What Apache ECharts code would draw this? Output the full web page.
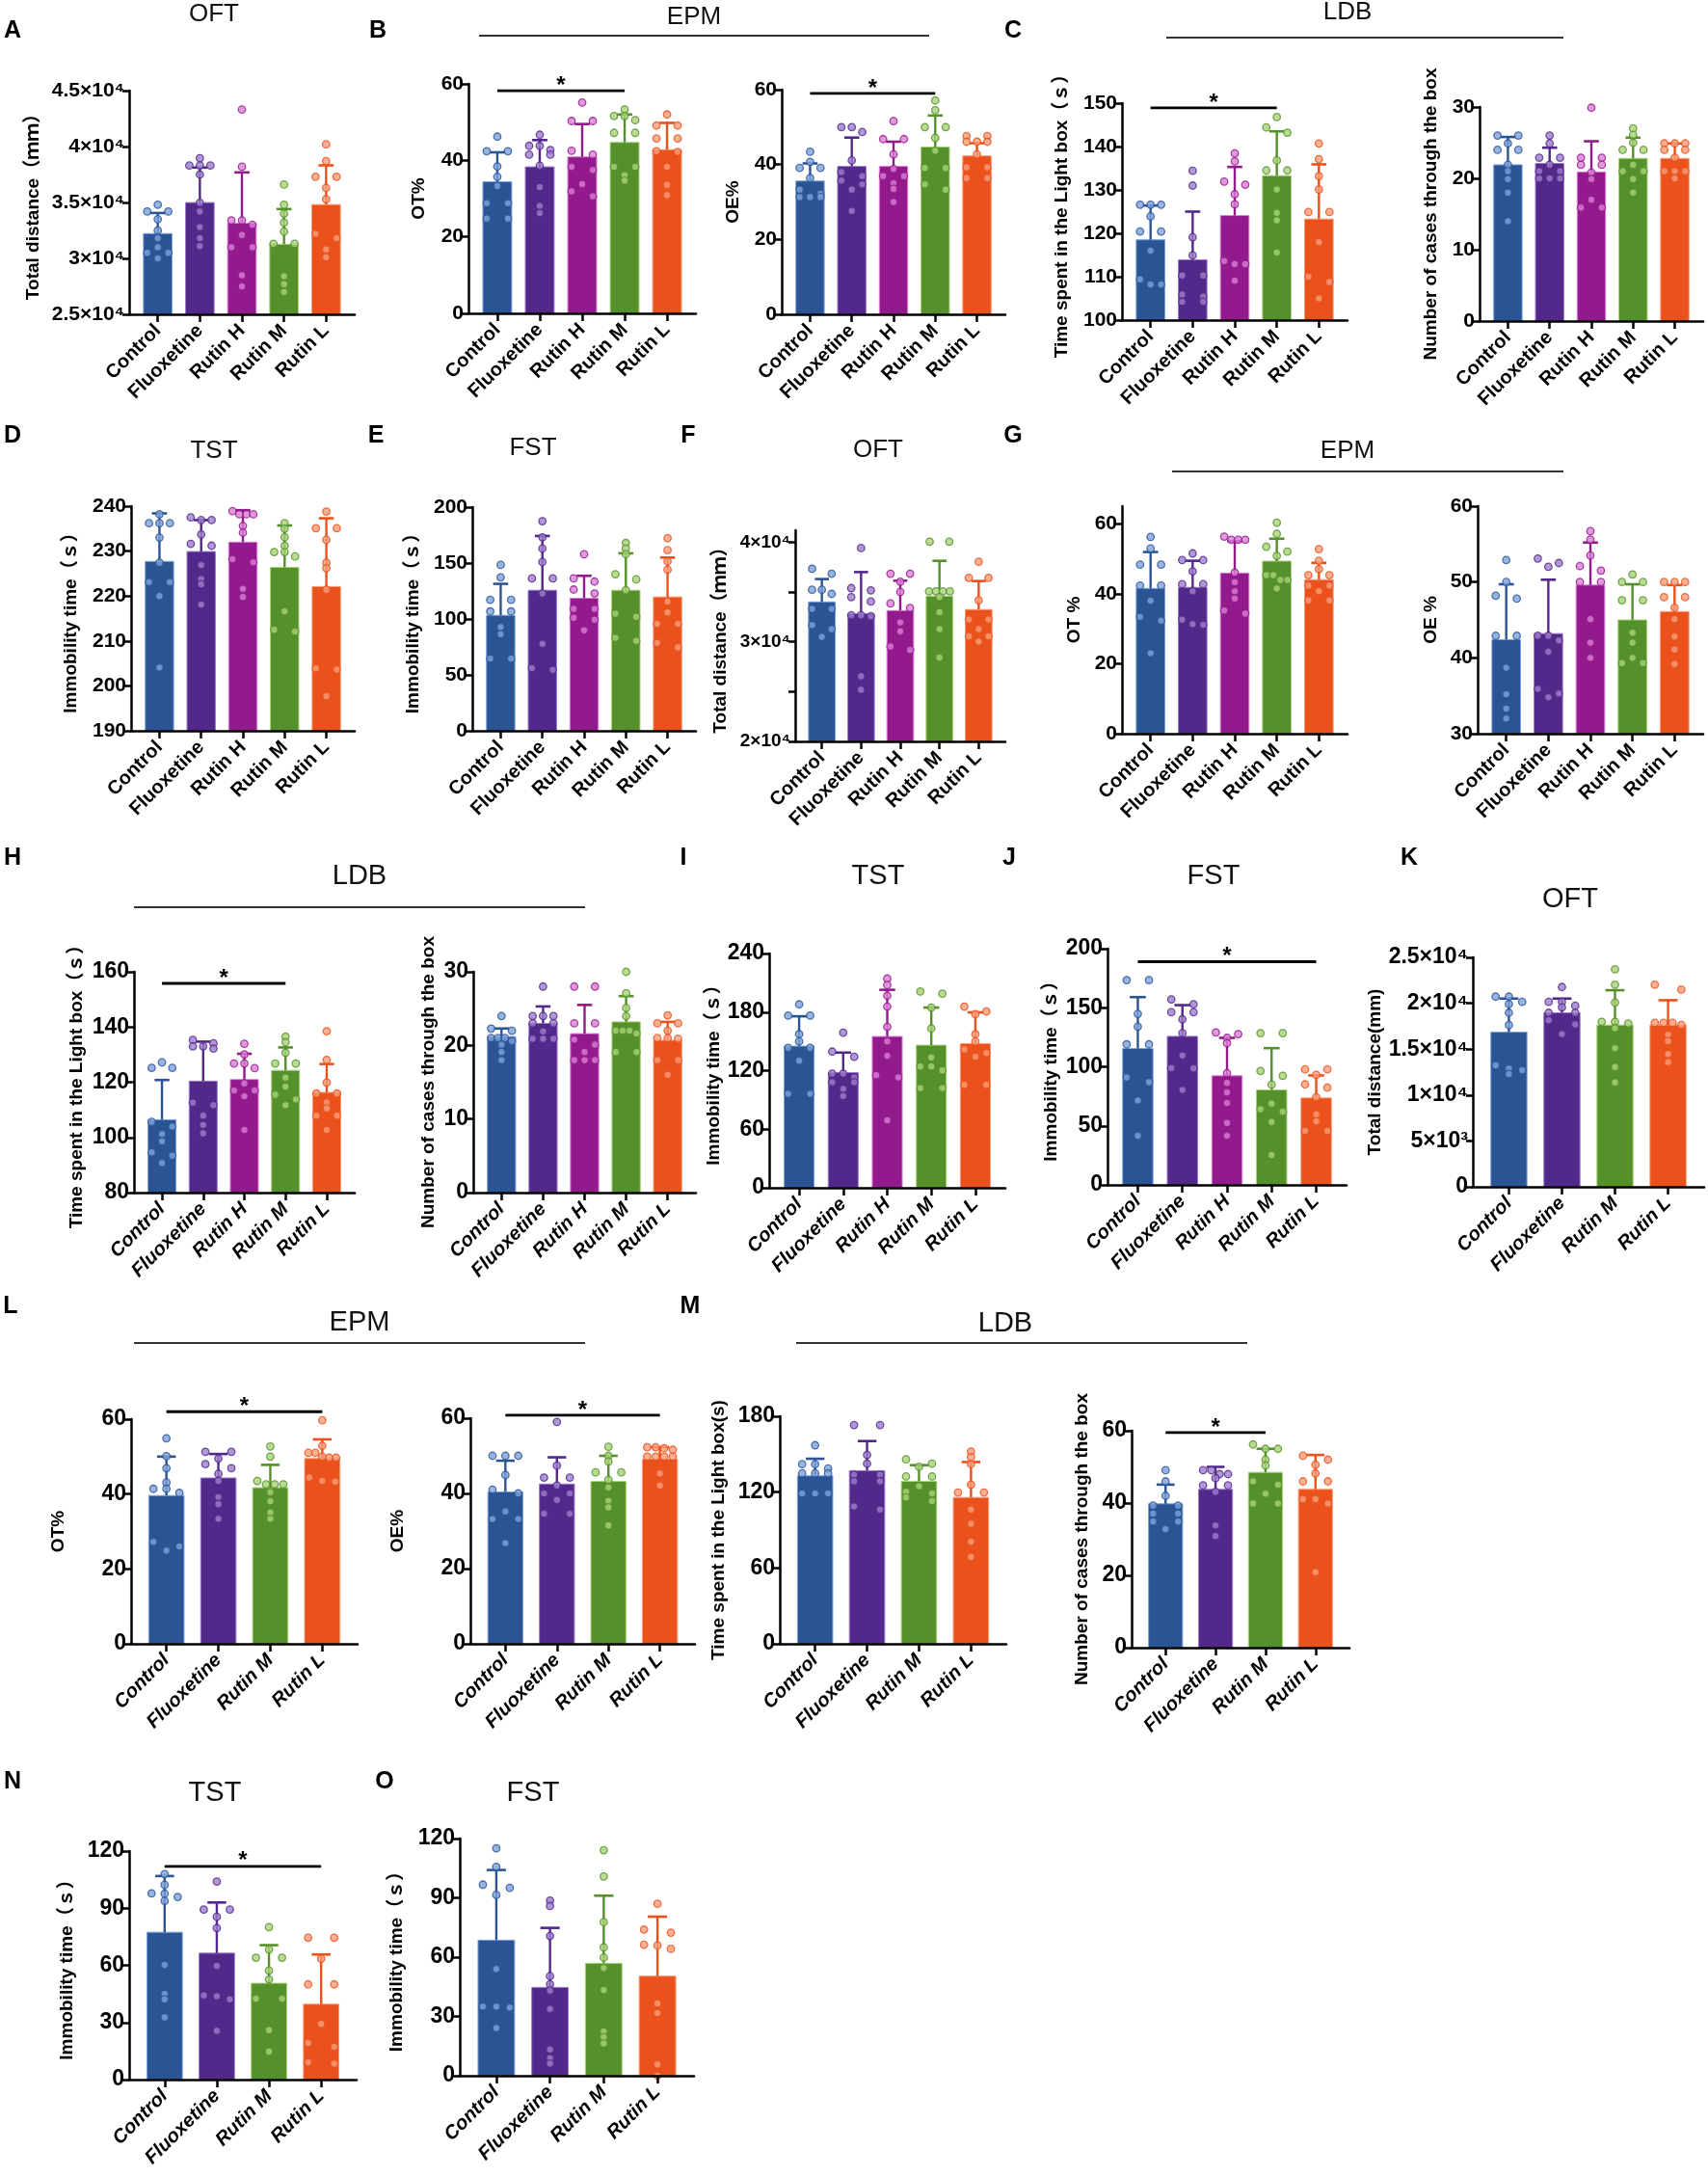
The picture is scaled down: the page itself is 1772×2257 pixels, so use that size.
<!DOCTYPE html>
<html><head><meta charset="utf-8">
<script src="https://cdn.jsdelivr.net/npm/echarts@6/dist/echarts.min.js"></script>
<style>html,body{margin:0;padding:0;background:#fff;}#chart{width:1772px;height:2257px;}</style>
</head><body><div id="chart"></div>
<script>
const CAT5 = ['Control','Fluoxetine','Rutin H','Rutin M','Rutin L'];
const CAT4 = ['Control','Fluoxetine','Rutin M','Rutin L'];

// A  OFT
const A_yticks=[25000,30000,35000,40000,45000];
const A_ylabels=['2.5×10⁴','3×10⁴','3.5×10⁴','4×10⁴','4.5×10⁴'];
const A_mean=[32220,34990,33140,31270,34810];
const A_sd=[1840,3130,4550,3140,3510];
const A_dots=[[34800,34200,34200,33500,32500,31800,31000,30500,30500,30000],
 [38960,38300,38300,38300,37500,34960,34200,32800,31800,31100],
 [43300,38200,33400,33400,33000,32100,31000,31000,28500,27500],
 [36600,34800,34000,33200,32400,31300,31300,28400,27700,27000],
 [40200,38700,37300,37300,36300,35300,32200,31800,30800,30100]];
// B  EPM OT%
const B1_yticks=[0,20,40,60];
const B1_mean=[34.4,38.3,40.9,44.7,42.8];
const B1_sd=[7.7,7.0,8.6,7.3,7.0];
const B1_dots=[[46.2,42.4,42.4,38.4,35.7,33.3,28.8,28.8,24.8,24.8],
 [46.7,43.8,43.8,42.7,41.5,41.5,38.6,33.0,28.1,26.2],
 [55.1,50.3,50.3,42.5,41.5,38.3,37.5,33.8,31.9,30.6],
 [53.3,51.6,51.6,50.5,47.2,47.2,38.3,38.3,36.1,34.7],
 [52.0,49.1,49.1,45.7,45.7,42.4,42.2,38.3,33.6,30.9]];
const B1_sig=[0,3,58.2];
// B  EPM OE%
const B2_yticks=[0,20,40,60];
const B2_mean=[35.6,39.5,39.5,44.7,42.3];
const B2_sd=[4.7,7.7,6.6,8.4,3.4];
const B2_dots=[[43.4,40.7,39.1,39.1,36.4,33.3,32.2,31.3,31.3,31.3],
 [50.0,50.0,48.7,41.1,38.0,36.9,35.7,34.7,33.3,27.6],
 [51.6,46.8,46.8,42.7,38.8,36.9,36.9,35.0,33.5,30.0],
 [57.1,54.5,50.0,50.0,47.1,43.7,39.1,39.1,34.7,33.3],
 [47.6,47.6,46.1,46.1,46.1,42.7,39.3,39.3,36.4,36.4]];
const B2_sig=[0,3,59.0];
// C  LDB time
const C1_yticks=[100,110,120,130,140,150];
const C1_mean=[118.5,113.9,124.1,133.3,123.3];
const C1_sd=[7.9,11.1,11.2,10.2,12.6];
const C1_dots=[[126.6,126.6,126.6,123.9,120.4,120.4,116.0,109.4,108.2,108.2],
 [134.4,131.0,119.1,114.9,110.3,110.3,105.9,105.4,104.2,104.2],
 [138.4,136.6,131.9,131.2,129.0,126.7,113.6,112.9,112.9,109.1],
 [146.8,144.4,143.2,136.8,134.5,134.5,130.1,124.7,123.0,115.6],
 [140.7,137.1,133.2,130.1,124.9,124.9,118.0,110.0,108.8,105.0]];
const C1_sig=[0,3,148.9];
// C  LDB cases
const C2_yticks=[0,10,20,30];
const C2_mean=[21.9,22.1,20.9,22.8,22.8];
const C2_sd=[3.9,2.2,4.3,2.9,2.1];
const C2_dots=[[26.0,26.0,24.9,24.0,24.0,21.9,21.0,19.9,18.0,14.0],
 [26.0,24.9,22.9,22.9,21.9,21.0,21.0,20.0,20.0,20.0],
 [29.9,22.9,22.9,21.9,21.9,20.8,19.9,17.0,15.9,15.9],
 [27.0,26.1,25.0,24.0,24.0,21.9,21.0,21.0,19.9,18.0],
 [24.9,24.9,24.9,24.0,24.0,22.9,21.0,21.0,21.0,20.0]];
// D  TST
const D_yticks=[190,200,210,220,230,240];
const D_mean=[227.7,229.9,232.0,226.4,222.1];
const D_sd=[10.7,7.0,7.1,9.3,15.2];
const D_dots=[[238.2,236.2,236.2,236.2,233.0,227.4,223.1,223.1,220.0,204.1],
 [237.5,236.9,236.9,233.7,231.6,231.2,226.9,223.8,222.6,218.1],
 [238.9,238.2,238.2,238.2,235.6,234.1,228.2,227.5,221.6,219.8],
 [236.2,235.0,233.1,231.2,229.8,229.8,228.8,216.6,212.5,212.1],
 [238.8,235.1,235.1,232.5,227.4,226.2,221.4,203.9,203.6,197.7]];
// E  FST
const E_yticks=[0,50,100,150,200];
const E_mean=[103.3,125.7,118.5,125.7,119.7];
const E_sd=[28.1,48.5,20.1,33.0,35.2];
const E_dots=[[148.3,137.2,117.1,117.1,106.7,106.7,92.7,86.4,64.6,64.6],
 [187.4,173.0,163.0,150.9,136.3,136.3,122.8,77.8,56.0,54.5],
 [157.8,136.3,133.4,126.3,122.8,109.0,109.0,101.0,99.3,89.8],
 [167.9,163.0,158.0,140.0,135.4,125.7,104.7,101.9,83.2,80.3],
 [172.2,161.5,151.5,144.0,115.6,105.9,95.6,95.6,78.6,74.6]];
// F  OFT
const F_yticks=[20000,25000,30000,35000,40000];
const F_ylabels=['2×10⁴','','3×10⁴','','4×10⁴'];
const F_mean=[34010,32820,33140,34590,33240];
const F_sd=[2290,4180,3000,3540,2860];
const F_dots=[[37330,36840,35230,35230,34810,33300,33300,31690,31270,30500],
 [39420,35390,35170,34490,34040,32660,32660,32560,26540,25190],
 [36840,36840,36040,35010,33850,33400,31950,31050,29530,29180],
 [40060,40060,35070,35070,35070,35070,34490,32980,31270,28410],
 [38040,36430,36430,34170,32240,32240,31270,30560,30560,30020]];
// G  EPM OT %
const G1_yticks=[0,20,40,60];
const G1_mean=[41.5,41.8,45.9,49.3,44.0];
const G1_sd=[10.4,7.6,9.1,6.4,4.8];
const G1_dots=[[56.2,52.9,48.3,48.3,42.3,42.3,38.0,33.4,32.3,23.0],
 [51.5,49.6,49.6,46.4,42.7,42.7,40.7,32.6,31.3,31.1],
 [56.3,55.4,55.4,55.4,46.0,43.3,40.7,38.6,35.2,34.3],
 [60.3,57.1,53.4,52.0,50.8,45.3,45.3,43.9,43.9,41.5],
 [52.7,49.4,47.0,45.3,45.3,42.3,42.3,40.7,38.1,38.1]];
// G  EPM OE %
const G2_yticks=[30,40,50,60];
const G2_mean=[42.4,43.2,49.6,45.0,46.1];
const G2_sd=[7.3,7.1,5.6,4.7,3.5];
const G2_dots=[[52.9,50.0,48.2,47.8,42.9,42.9,38.7,35.2,33.3,32.0],
 [53.1,52.5,52.0,42.9,42.9,42.3,40.8,35.9,35.3,34.8],
 [56.7,55.6,53.5,52.1,51.5,50.0,50.0,45.1,42.0,40.0],
 [51.0,50.0,50.0,47.6,47.6,43.3,42.0,40.0,39.3,39.3],
 [50.0,50.0,50.0,48.0,48.0,46.6,45.1,42.8,41.1,39.2]];
// H  LDB time
const H1_yticks=[80,100,120,140,160];
const H1_mean=[106.4,120.4,121.0,124.3,116.3];
const H1_sd=[14.4,14.3,9.3,8.3,10.3];
const H1_dots=[[127.2,125.2,125.2,105.6,103.9,101.2,98.6,94.6,93.4,90.7],
 [135.3,134.1,133.0,133.0,132.2,112.6,111.7,107.9,104.5,101.5],
 [133.9,130.1,126.8,126.8,125.1,119.6,117.0,117.0,114.9,102.7],
 [136.5,134.5,130.7,126.8,126.8,121.7,118.4,115.5,113.8,111.7],
 [138.5,128.1,119.9,115.9,115.9,112.6,110.5,107.9,107.9,102.7]];
const H1_sig=[0,3,155.8];
// H  LDB cases
const H2_yticks=[0,10,20,30];
const H2_mean=[21.2,23.0,21.6,23.2,20.7];
const H2_sd=[1.1,2.3,3.9,3.5,2.5];
const H2_dots=[[24.0,22.3,22.0,21.0,21.0,21.0,20.6,20.1,19.1,18.0],
 [28.0,24.0,24.0,24.0,23.0,23.0,21.9,20.9,20.9,20.9],
 [28.0,28.0,23.0,23.0,20.8,20.1,19.1,18.0,18.0,18.0],
 [30.0,27.1,25.1,24.0,22.0,22.0,22.0,21.6,19.1,19.1],
 [24.1,23.0,23.0,22.0,21.0,21.0,20.9,18.0,18.0,16.0]];
// I  TST
const I_yticks=[0,60,120,180,240];
const I_mean=[145.1,118.0,155.0,146.1,147.7];
const I_sd=[30.6,20.5,47.8,38.5,32.0];
const I_dots=[[187.9,176.4,176.4,157.3,150.0,143.4,143.4,130.2,96.3,96.3],
 [158.9,139.5,134.2,117.0,117.0,113.1,108.1,108.1,101.2,94.0],
 [214.3,207.7,196.8,185.6,164.9,150.0,135.2,115.4,113.1,69.2],
 [201.1,198.8,184.6,163.2,133.5,124.3,124.3,120.3,102.2,102.2],
 [185.6,180.7,178.0,157.3,150.0,141.8,138.0,134.2,105.5,105.5]];
// J  FST
const J_yticks=[0,50,100,150,200];
const J_mean=[115.5,125.8,92.4,80.4,73.6];
const J_sd=[43.5,26.4,32.1,35.4,19.1];
const J_dots=[[173.4,173.4,144.8,134.0,119.0,119.0,91.0,87.0,71.5,41.6],
 [157.1,153.0,146.2,146.2,140.2,128.5,109.5,99.0,98.6,80.4],
 [129.1,127.7,124.5,120.0,94.6,86.4,78.3,69.3,52.4,41.6],
 [128.5,128.5,96.5,92.4,85.0,68.8,64.1,62.0,53.3,25.3],
 [97.8,97.8,93.2,85.1,82.4,74.2,59.8,53.8,45.7,45.7]];
const J_sig=[0,4,189];
// K  OFT
const K_yticks=[0,5000,10000,15000,20000,25000];
const K_ylabels=['0','5×10³','1×10⁴','1.5×10⁴','2×10⁴','2.5×10⁴'];
const K_mean=[16850,18960,17630,17630];
const K_sd=[3660,1550,3790,2700];
const K_dots=[[20720,20720,20150,19910,18960,17630,13240,12890,12710,12290],
 [21770,20150,20150,19730,19560,18960,18960,18150,17700,16640],
 [23700,22020,20080,17980,17980,17800,17280,15100,13060,11380],
 [22020,21490,17870,17870,17870,17630,16570,15870,14470,13590]];
// L  EPM OT%
const L1_yticks=[0,20,40,60];
const L1_mean=[39.6,44.3,41.7,49.5];
const L1_sd=[10.4,6.4,6.1,5.1];
const L1_dots=[[54.9,50.1,46.9,43.1,41.4,41.4,40.3,27.2,26.0,24.9],
 [51.3,51.3,49.5,48.0,46.9,45.4,43.5,39.2,37.3,33.4],
 [52.7,50.0,43.5,42.6,42.6,42.6,40.5,38.1,35.1,33.4],
 [59.7,52.9,51.0,51.0,50.0,49.7,49.7,44.4,43.5,43.3]];
const L1_sig=[0,3,62];
// L  EPM OE%
const L2_yticks=[0,20,40,60];
const L2_mean=[40.4,42.5,43.2,49.1];
const L2_sd=[8.3,7.1,6.8,3.2];
const L2_dots=[[50.0,50.0,50.0,44.9,41.0,40.0,35.2,33.2,33.2,26.8],
 [59.0,47.4,44.2,44.2,42.1,40.0,40.0,38.3,34.6,34.6],
 [52.4,50.0,48.5,45.6,45.6,43.6,41.6,38.0,36.3,31.5],
 [52.3,52.3,52.0,51.6,49.8,49.8,49.8,49.8,45.3,42.1]];
const L2_sig=[0,3,60.8];
// M  LDB time
const M1_yticks=[0,60,120,180];
const M1_mean=[132.9,137.0,128.6,115.8];
const M1_sd=[13.5,23.4,12.7,28.0];
const M1_dots=[[157.1,142.1,142.1,138.7,134.9,134.9,134.9,118.9,118.9,118.9],
 [173.1,173.1,149.4,142.6,133.7,133.7,128.6,128.6,108.7,106.2],
 [145.9,142.6,140.0,132.4,132.4,124.7,120.2,118.9,115.8,112.8],
 [152.0,147.7,142.3,126.0,119.7,119.7,106.2,95.0,80.7,68.7]];
// M  LDB cases
const M2_yticks=[0,20,40,60];
const M2_mean=[39.8,43.8,48.5,43.8];
const M2_sd=[5.3,6.2,6.5,9.5];
const M2_dots=[[49.1,46.0,42.0,39.3,39.3,37.1,37.1,34.9,34.9,32.8],
 [49.1,49.1,48.0,48.0,46.9,44.9,44.9,43.1,33.8,30.9],
 [56.2,55.0,55.0,52.0,50.4,46.0,45.1,42.6,39.9,39.9],
 [53.1,52.0,50.6,48.2,46.0,46.0,41.1,41.1,39.9,20.9]];
const M2_sig=[0,2,59.5];
// N  TST
const N_yticks=[0,30,60,90,120];
const N_mean=[77.4,66.4,50.6,39.6];
const N_sd=[29.5,26.6,20.0,26.1];
const N_dots=[[107.9,102.3,97.8,97.6,95.9,93.9,60.2,45.0,42.1,32.7],
 [104.0,89.3,89.3,85.5,79.6,59.7,44.2,43.8,42.1,25.6],
 [80.1,68.3,64.0,64.0,57.3,52.6,42.5,42.5,26.0,14.7],
 [74.5,74.5,63.5,50.0,50.0,29.3,19.2,17.2,9.1,8.4]];
const N_sig=[0,3,112];
// O  FST
const O_yticks=[0,30,60,90,120];
const O_mean=[68.6,44.7,56.9,50.4];
const O_sd=[35.5,30.1,34.2,30.1];
const O_dots=[[115.1,105.7,96.7,95.1,91.5,54.0,35.0,35.0,34.5,24.1],
 [88.6,85.9,70.7,50.4,46.3,43.1,33.8,13.3,8.9,6.2],
 [114.1,100.8,77.7,65.0,59.8,54.5,43.4,22.4,19.5,16.3],
 [87.0,74.0,72.4,66.3,65.9,64.2,36.6,31.7,5.7,0.0]];

// ---------- styling / layout ----------
const FONT="'Liberation Sans','Noto Sans CJK SC',sans-serif";
const NARROW="'Liberation Sans Narrow','Liberation Sans','Noto Sans CJK SC',sans-serif";
const COLORS={'Control':['#2B5494','#7EA3DA'],'Fluoxetine':['#52298A','#9D7DCB'],
 'Rutin H':['#931A8C','#DA80D6'],'Rutin M':['#55912A','#AAD27B'],'Rutin L':['#EA511B','#F89C7A']};
const option={animation:false,backgroundColor:'#fff',grid:[],xAxis:[],yAxis:[],series:[],graphic:[]};

function swarm(vals,ppu,W){
  const order=vals.map((v,i)=>i).sort((a,b)=>vals[b]-vals[a]);
  const off=vals.map(()=>0);
  let k=0;
  while(k<order.length){
    const row=[order[k]];let j=k+1;
    while(j<order.length&&(vals[order[k]]-vals[order[j]])*ppu<5.5){row.push(order[j]);j++;}
    const m=row.length,w=Math.max(W,(m-1)*3.6);
    row.forEach((q,r)=>{off[q]=m===1?0:-w+2*w*r/(m-1);});
    k=j;
  }
  return off;
}

function addPanel(p){
  const gi=option.grid.length,n=p.cats.length,PAD=0.68;
  const [L,R,T,B]=p.box;
  const late=p.row>=3;
  option.grid.push({left:L,top:T,width:R-L,height:B-T});
  const dark=p.cats.map(c=>COLORS[c][0]),light=p.cats.map(c=>COLORS[c][1]);
  const idx=p.cats.map((c,i)=>i);
  option.xAxis.push({gridIndex:gi,type:'value',min:-PAD,max:n-1+PAD,z:10,
    axisLine:{show:true,onZero:false,lineStyle:{color:'#000',width:2.5}},
    axisTick:{show:true,customValues:idx,length:8,lineStyle:{color:'#000',width:2.5}},
    axisLabel:{show:true,customValues:idx,rotate:45,margin:14,formatter:v=>p.cats[Math.round(v)]||'',
      color:'#000',fontSize:20,fontWeight:'bold',fontStyle:late?'italic':'normal',fontFamily:FONT},
    splitLine:{show:false}});
  const lab=v=>{const k=p.yticks.findIndex(t=>Math.abs(t-v)<1e-6);return k<0?'':(p.ylabels?p.ylabels[k]:String(v));};
  option.yAxis.push({gridIndex:gi,type:'value',min:p.min,max:p.max,z:10,
    axisLine:{show:true,onZero:false,lineStyle:{color:'#000',width:2.5}},
    axisTick:{show:true,customValues:p.yticks,length:7,lineStyle:{color:'#000',width:2.5}},
    axisLabel:{show:true,customValues:p.yticks,formatter:lab,margin:5,color:'#000',
      fontSize:late?23:(p.small?19:21),fontWeight:'bold',fontFamily:late?NARROW:FONT},
    splitLine:{show:false},
    name:p.name,nameLocation:'middle',nameRotate:90,nameGap:p.nameGap,
    nameTextStyle:{color:'#000',fontSize:19,fontWeight:'bold',fontFamily:FONT}});
  // bars
  option.series.push({type:'custom',xAxisIndex:gi,yAxisIndex:gi,z:2,silent:true,encode:{x:0,y:1},
    data:p.mean.map((m,i)=>[i,m]),
    renderItem:(params,api)=>{const i=api.value(0);const top=api.coord([i,api.value(1)]);const bot=api.coord([i,p.min]);
      const w=api.size([1,0])[0]*0.68;
      return {type:'rect',shape:{x:top[0]-w/2,y:top[1],width:w,height:bot[1]-top[1]},
        style:{fill:dark[i],stroke:light[i],lineWidth:1}};}});
  // error bars (mean to mean+SD)
  option.series.push({type:'custom',xAxisIndex:gi,yAxisIndex:gi,z:3,silent:true,encode:{x:0,y:[1,2]},
    data:p.mean.map((m,i)=>[i,m,m+p.sd[i]]),
    renderItem:(params,api)=>{const i=api.value(0);const a=api.coord([i,api.value(1)]),b=api.coord([i,api.value(2)]);
      const cw=api.size([1,0])[0]*0.18;
      return {type:'group',children:[
        {type:'line',shape:{x1:a[0],y1:a[1],x2:b[0],y2:b[1]},style:{stroke:dark[i],lineWidth:2.4}},
        {type:'line',shape:{x1:b[0]-cw,y1:b[1],x2:b[0]+cw,y2:b[1]},style:{stroke:dark[i],lineWidth:2.6}}]};}});
  // individual points
  const spacing=(R-L)/(n-1+2*PAD),ppu=(B-T)/(p.max-p.min);
  const pts=[];
  p.dots.forEach((vals,i)=>{const off=swarm(vals,ppu,spacing*0.25);
    vals.forEach((v,k)=>pts.push({value:[i+off[k]/spacing,v],itemStyle:{color:light[i],borderColor:dark[i],borderWidth:1.3}}));});
  option.series.push({type:'scatter',xAxisIndex:gi,yAxisIndex:gi,z:4,silent:true,symbolSize:7.5,data:pts});
  // significance bracket
  if(p.sig){
    option.series.push({type:'custom',xAxisIndex:gi,yAxisIndex:gi,z:5,silent:true,encode:{x:[0,1],y:2},
      data:[p.sig],
      renderItem:(params,api)=>{const y=api.value(2);const a=api.coord([api.value(0),y]),b=api.coord([api.value(1),y]);
        return {type:'group',children:[
          {type:'line',shape:{x1:a[0],y1:a[1],x2:b[0],y2:b[1]},style:{stroke:'#000',lineWidth:2.8}},
          {type:'text',x:(a[0]+b[0])/2,y:a[1]-5,style:{text:'*',fontSize:24,fontWeight:'bold',fontFamily:FONT,fill:'#000',
            align:'center',verticalAlign:'middle',textAlign:'center',textVerticalAlign:'middle'}}]};}});
  }
}

const TD='Total distance（ｍｍ）', IT='Immobility time（ｓ）', TS='Time spent in the Light box（ｓ）', NC='Number of cases through the box';
addPanel({row:1,cats:CAT5,box:[134,368,94,326],min:25000,max:45000,yticks:A_yticks,ylabels:A_ylabels,mean:A_mean,sd:A_sd,dots:A_dots,name:TD,nameGap:90});
addPanel({row:1,cats:CAT5,box:[486,722,87,325],min:0,max:60,yticks:B1_yticks,mean:B1_mean,sd:B1_sd,dots:B1_dots,sig:B1_sig,name:'OT%',nameGap:42});
addPanel({row:1,cats:CAT5,box:[811,1043,93,326],min:0,max:60,yticks:B2_yticks,mean:B2_mean,sd:B2_sd,dots:B2_dots,sig:B2_sig,name:'OE%',nameGap:41});
addPanel({row:1,cats:CAT5,box:[1164,1398,107,332],min:100,max:150,yticks:C1_yticks,mean:C1_mean,sd:C1_sd,dots:C1_dots,sig:C1_sig,name:TS,nameGap:53});
addPanel({row:1,cats:CAT5,box:[1535,1767,111,333],min:0,max:30,yticks:C2_yticks,mean:C2_mean,sd:C2_sd,dots:C2_dots,name:NC,nameGap:41});
addPanel({row:2,cats:CAT5,box:[136,368,525,758],min:190,max:240,yticks:D_yticks,mean:D_mean,sd:D_sd,dots:D_dots,name:IT,nameGap:53});
addPanel({row:2,cats:CAT5,box:[490,722,526,758],min:0,max:200,yticks:E_yticks,mean:E_mean,sd:E_sd,dots:E_dots,name:IT,nameGap:52});
addPanel({row:2,cats:CAT5,box:[825,1043,550,769],min:20000,max:41200,yticks:F_yticks,ylabels:F_ylabels,small:true,mean:F_mean,sd:F_sd,dots:F_dots,name:TD,nameGap:68});
addPanel({row:2,cats:CAT5,box:[1164,1398,525,761],min:0,max:65,yticks:G1_yticks,mean:G1_mean,sd:G1_sd,dots:G1_dots,name:'OT %',nameGap:40});
addPanel({row:2,cats:CAT5,box:[1533,1767,525,761],min:30,max:60,yticks:G2_yticks,mean:G2_mean,sd:G2_sd,dots:G2_dots,name:'OE %',nameGap:39});
addPanel({row:3,cats:CAT5,box:[139,368,1008,1237],min:80,max:160,yticks:H1_yticks,mean:H1_mean,sd:H1_sd,dots:H1_dots,sig:H1_sig,name:TS,nameGap:50});
addPanel({row:3,cats:CAT5,box:[491,722,1008,1237],min:0,max:30,yticks:H2_yticks,mean:H2_mean,sd:H2_sd,dots:H2_dots,name:NC,nameGap:37});
addPanel({row:3,cats:CAT5,box:[798,1043,989,1232],min:0,max:240,yticks:I_yticks,mean:I_mean,sd:I_sd,dots:I_dots,name:IT,nameGap:46});
addPanel({row:3,cats:CAT5,box:[1149,1397,984,1229],min:0,max:200,yticks:J_yticks,mean:J_mean,sd:J_sd,dots:J_dots,sig:J_sig,name:IT,nameGap:49});
addPanel({row:3,cats:CAT4,box:[1528,1768,993,1231],min:0,max:25000,yticks:K_yticks,ylabels:K_ylabels,mean:K_mean,sd:K_sd,dots:K_dots,name:'Total distance(mm)',nameGap:91});
addPanel({row:4,cats:CAT4,box:[136,371,1472,1705],min:0,max:60,yticks:L1_yticks,mean:L1_mean,sd:L1_sd,dots:L1_dots,sig:L1_sig,name:'OT%',nameGap:66});
addPanel({row:4,cats:CAT4,box:[488,721,1471,1705],min:0,max:60,yticks:L2_yticks,mean:L2_mean,sd:L2_sd,dots:L2_dots,sig:L2_sig,name:'OE%',nameGap:66});
addPanel({row:4,cats:CAT4,box:[809,1044,1469,1705],min:0,max:180,yticks:M1_yticks,mean:M1_mean,sd:M1_sd,dots:M1_dots,name:'Time spent in the Light box(s)',nameGap:54});
addPanel({row:4,cats:CAT4,box:[1174,1400,1484,1709],min:0,max:60,yticks:M2_yticks,mean:M2_mean,sd:M2_sd,dots:M2_dots,sig:M2_sig,name:NC,nameGap:42});
addPanel({row:5,cats:CAT4,box:[134,370,1920,2157],min:0,max:120,yticks:N_yticks,mean:N_mean,sd:N_sd,dots:N_dots,sig:N_sig,name:IT,nameGap:55});
addPanel({row:5,cats:CAT4,box:[477,720,1907,2153],min:0,max:120,yticks:O_yticks,mean:O_mean,sd:O_sd,dots:O_dots,name:IT,nameGap:56});

// titles, panel letters and header rules
const titles=[['OFT',222,15,1],['EPM',720,18,1],['LDB',1398,13,1],
 ['TST',222,468,2],['FST',553,465,2],['OFT',911,467,2],['EPM',1398,468,2],
 ['LDB',373,909,3],['TST',911,909,3],['FST',1259,909,3],['OFT',1629,933,3],
 ['EPM',373,1372,4],['LDB',1043,1373,4],['TST',223,1860,5],['FST',553,1860,5]];
const letters=[['A',13,32],['B',392,32],['C',1051,32],['D',13,452],['E',390,452],['F',714,452],['G',1051,452],
 ['H',13,890],['I',709,890],['J',1047,890],['K',1462,890],['L',11,1355],['M',716,1355],['N',13,1848],['O',399,1848]];
const rules=[[497,964,37],[1210,1622,39],[1216,1622,489],[139,607,941],[139,607,1393],[826,1294,1393]];
titles.forEach(t=>option.graphic.push({type:'text',x:t[1],y:t[2],silent:true,
  style:{text:t[0],fontSize:t[3]>=3?29:26,fontFamily:t[3]>=3?NARROW:FONT,fill:'#111',
  align:'center',verticalAlign:'middle',textAlign:'center',textVerticalAlign:'middle'}}));
letters.forEach(t=>option.graphic.push({type:'text',x:t[1],y:t[2],silent:true,
  style:{text:t[0],fontSize:25,fontWeight:'bold',fontFamily:FONT,fill:'#000',
  align:'center',verticalAlign:'middle',textAlign:'center',textVerticalAlign:'middle'}}));
rules.forEach(r=>option.graphic.push({type:'line',silent:true,shape:{x1:r[0],y1:r[2],x2:r[1],y2:r[2]},style:{stroke:'#333',lineWidth:2}}));

const chart=echarts.init(document.getElementById('chart'));
chart.setOption(option);
</script></body></html>
